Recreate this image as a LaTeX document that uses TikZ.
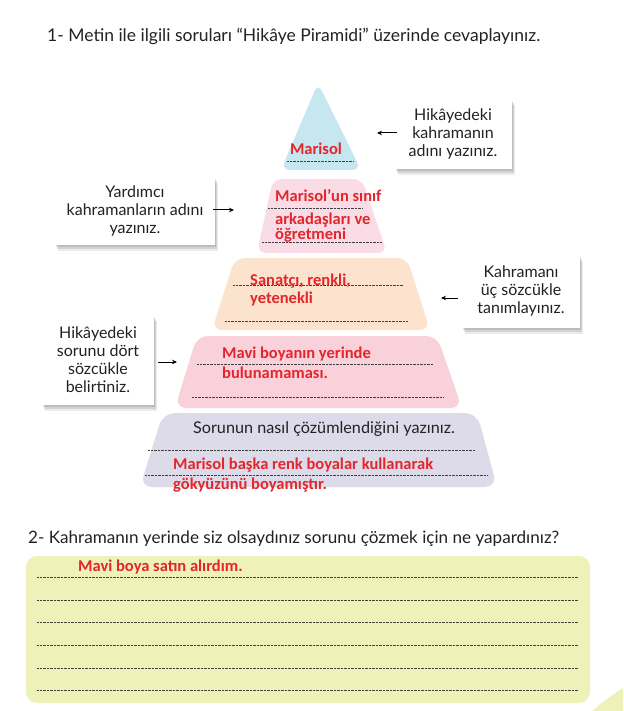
\documentclass[tikz,border=0pt]{standalone}
\usepackage{fontspec}
\setmainfont{Lato}
\newfontfamily\ansfont{Carlito}
\usetikzlibrary{shadows,arrows.meta}
\definecolor{tierA}{HTML}{C6E7F0}
\definecolor{tierB}{HTML}{F9DCE6}
\definecolor{tierC}{HTML}{FBE3CD}
\definecolor{tierD}{HTML}{F8D1DB}
\definecolor{tierE}{HTML}{DDDBEA}
\definecolor{ansbg}{HTML}{EEF1B8}
\definecolor{ansred}{HTML}{E3262B}
\definecolor{txt}{HTML}{222222}
\begin{document}
\begin{tikzpicture}[x=1pt,y=-1pt,
  title/.style={anchor=base west,font=\fontsize{17.5}{20}\selectfont,text=txt,inner sep=0pt},
  ans/.style={anchor=base west,font=\ansfont\bfseries\fontsize{16.5}{18}\selectfont,text=ansred,inner sep=0pt},
  dots/.style={draw=black!75,line width=0.7pt,dash pattern=on 0.7pt off 0.7pt},
  softshadow/.style={
    drop shadow={shadow xshift=1pt,shadow yshift=-2pt,opacity=0.10,fill=black},
    drop shadow={shadow xshift=2pt,shadow yshift=-4pt,opacity=0.10,fill=black},
    drop shadow={shadow xshift=3pt,shadow yshift=-6pt,opacity=0.08,fill=black}},
  callout/.style={fill=white,align=center,font=\fontsize{16}{18}\selectfont,text=txt,inner sep=0pt,softshadow},
  arr/.style={-{Stealth[length=5pt,width=4.5pt]},line width=1pt,black}]
\useasboundingbox (0,0) rectangle (623,711);
\fill[white] (0,0) rectangle (623,711);

% title
\node[title] (q1) at (47,42) {1- Metin ile ilgili soruları “Hikâye Piramidi” üzerinde cevaplayınız.};

% pyramid tiers
\fill[tierA,rounded corners=9] (320,170) -- (281,170) -- (318,83) -- (361,170) -- cycle;
\fill[tierB,rounded corners=9] (320,253) -- (257,253) -- (273,179) -- (362,179) -- (387,253) -- cycle;
\fill[tierC,rounded corners=10] (320,330) -- (212,330) -- (235,258) -- (407,258) -- (430,330) -- cycle;
\fill[tierD,rounded corners=11] (320,408) -- (175,408) -- (197,336) -- (437,336) -- (462,408) -- cycle;
\fill[tierE,rounded corners=12] (320,487) -- (140,487) -- (163,413) -- (477,413) -- (497,487) -- cycle;

% tier 1
\draw[dots] (287,161) -- (353,161);
\node[ans,anchor=base] (m1) at (316,155) {Marisol};
% tier 2
\draw[dots] (268,208) -- (362,208);
\draw[dots] (262,242) -- (382,242);
\node[ans] (m2a) at (275,202) {Marisol’un sınıf};
\node[ans] (m2b) at (275,224) {arkadaşları ve};
\node[ans] (m2c) at (275,240) {öğretmeni};
% tier 3
\draw[dots] (233,285) -- (403,285);
\draw[dots] (225,321) -- (408,321);
\node[ans] (m3a) at (250,285) {Sanatçı, renkli,};
\node[ans] (m3b) at (250,303) {yetenekli};
% tier 4
\draw[dots] (197,364) -- (433,364);
\draw[dots] (192,397) -- (443,397);
\node[ans] (m4a) at (222,358) {Mavi boyanın yerinde};
\node[ans] (m4b) at (222,378) {bulunamaması.};
% tier 5
\node[anchor=base,font=\fontsize{16.2}{18}\selectfont,text=txt,inner sep=0pt] (m5q) at (324,433) {Sorunun nasıl çözümlendiğini yazınız.};
\draw[dots] (148,450) -- (475,450);
\draw[dots] (145,475) -- (488,475);
\node[ans] (m5a) at (173,469) {Marisol başka renk boyalar kullanarak};
\node[ans] (m5b) at (173,489) {gökyüzünü boyamıştır.};

% callouts
\node[callout,minimum width=117pt,minimum height=70pt] (c1) at (453,134)
  {Hikâyedeki\\kahramanın\\adını yazınız.};
\node[callout,minimum width=160pt,minimum height=68pt] (c2) at (135,211)
  {Yardımcı\\kahramanların adını\\yazınız.};
\node[callout,minimum width=118pt,minimum height=73pt] (c3) at (521,291)
  {Kahramanı\\üç sözcükle\\tanımlayınız.};
\node[callout,minimum width=112pt,minimum height=90pt] (c4) at (98,360)
  {Hikâyedeki\\sorunu dört\\sözcükle\\belirtiniz.};

\coordinate (e1s) at (397,133); \coordinate (e1) at (377,133);
\coordinate (e2s) at (213,210); \coordinate (e2) at (234,210);
\coordinate (e3s) at (458,298); \coordinate (e3) at (441,298);
\coordinate (e4s) at (158,362); \coordinate (e4) at (177,362);
\draw[arr] (e1s) -- (e1);
\draw[arr] (e2s) -- (e2);
\draw[arr] (e3s) -- (e3);
\draw[arr] (e4s) -- (e4);

% question 2
\node[title,font=\fontsize{17.1}{20}\selectfont] (q2) at (28,543) {2- Kahramanın yerinde siz olsaydınız sorunu çözmek için ne yapardınız?};
\fill[ansbg,rounded corners=11] (26,556) rectangle (590,703);
\foreach \yy in {577,600,622,645,668,690} \draw[dots] (37,\yy) -- (578,\yy);
\node[ans] (a2) at (78,571) {Mavi boya satın alırdım.};
\fill[ansbg] (592,711) .. controls (605,700) and (615,693) .. (623,688) -- (623,711) -- cycle;
\end{tikzpicture}
\end{document}
